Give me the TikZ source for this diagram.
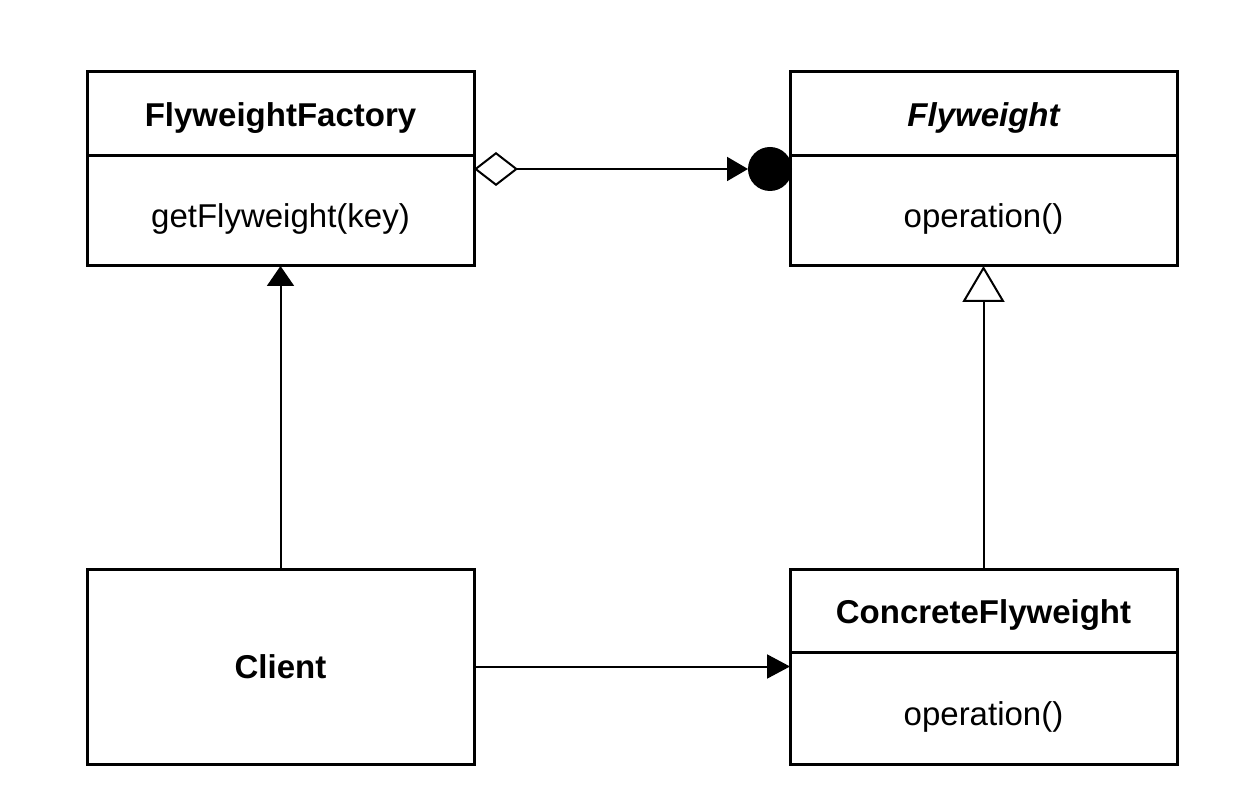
\documentclass[tikz,border=0pt]{standalone}
\usepackage{fontspec}
\setmainfont{Liberation Sans}
\usetikzlibrary{positioning, arrows.meta}

\begin{document}
\begin{tikzpicture}[
        x=0.5pt, y=-0.5pt,
        font=\fontsize{16.5}{20}\selectfont,
        every node/.style={outer sep=0pt, inner sep=0pt},
        classbox/.style={rectangle, draw, line width=1.5pt, minimum width=193.5pt},
        classhead/.style={classbox, minimum height=42pt, text height=12.5pt, text depth=0pt, font=\fontsize{16.5}{20}\selectfont\bfseries},
        classbody/.style={classbox, minimum height=55pt, text height=17pt, text depth=0pt},
        link/.style={line width=1pt}
    ]

    \useasboundingbox (0,0) rectangle (1248,812);

    %% ---- Factory and abstract flyweight ----
    \node[classhead] (fact) at (280.5,114) {FlyweightFactory};
    \node[classbody, below=0pt of fact] (factop) {getFlyweight(key)};

    \node[classhead] (fw) at (983.5,114) {\itshape Flyweight};
    \node[classbody, below=0pt of fw] (fwop) {operation()};

    %% ---- Client and concrete flyweight ----
    \node[classbox, minimum height=97.5pt, font=\fontsize{16.5}{20}\selectfont\bfseries] (client) at (280.5,666.5) {Client};

    \node[classhead, minimum height=41.5pt] (cfw) at (983.5,610.5) {ConcreteFlyweight};
    \node[classbody, minimum height=56pt, below=0pt of cfw] (cfwop) {operation()};

    %% ---- Aggregation: factory holds flyweights ----
    \node[circle, fill, minimum size=22pt] (fwdot) at ([xshift=-10pt, yshift=-6.5pt] fwop.north west) {};
    \draw[link, {Diamond[open, length=22pt, width=17pt]}-{Triangle[length=10.5pt, width=12pt]}]
    ([yshift=-6.5pt] factop.north east) -- (fwdot.west);

    %% ---- Client uses factory ----
    \draw[link, -{Triangle[length=10pt, width=13.5pt]}] (client.north) -- (factop.south);

    %% ---- Client uses concrete flyweight ----
    \draw[link, -{Triangle[length=11.5pt, width=12pt]}] (client.east) -- (client.east -| cfwop.west);

    %% ---- Generalisation ----
    \draw[link, -{Triangle[open, length=18pt, width=21pt]}] (cfw.north) -- (fwop.south);

\end{tikzpicture}
\end{document}
